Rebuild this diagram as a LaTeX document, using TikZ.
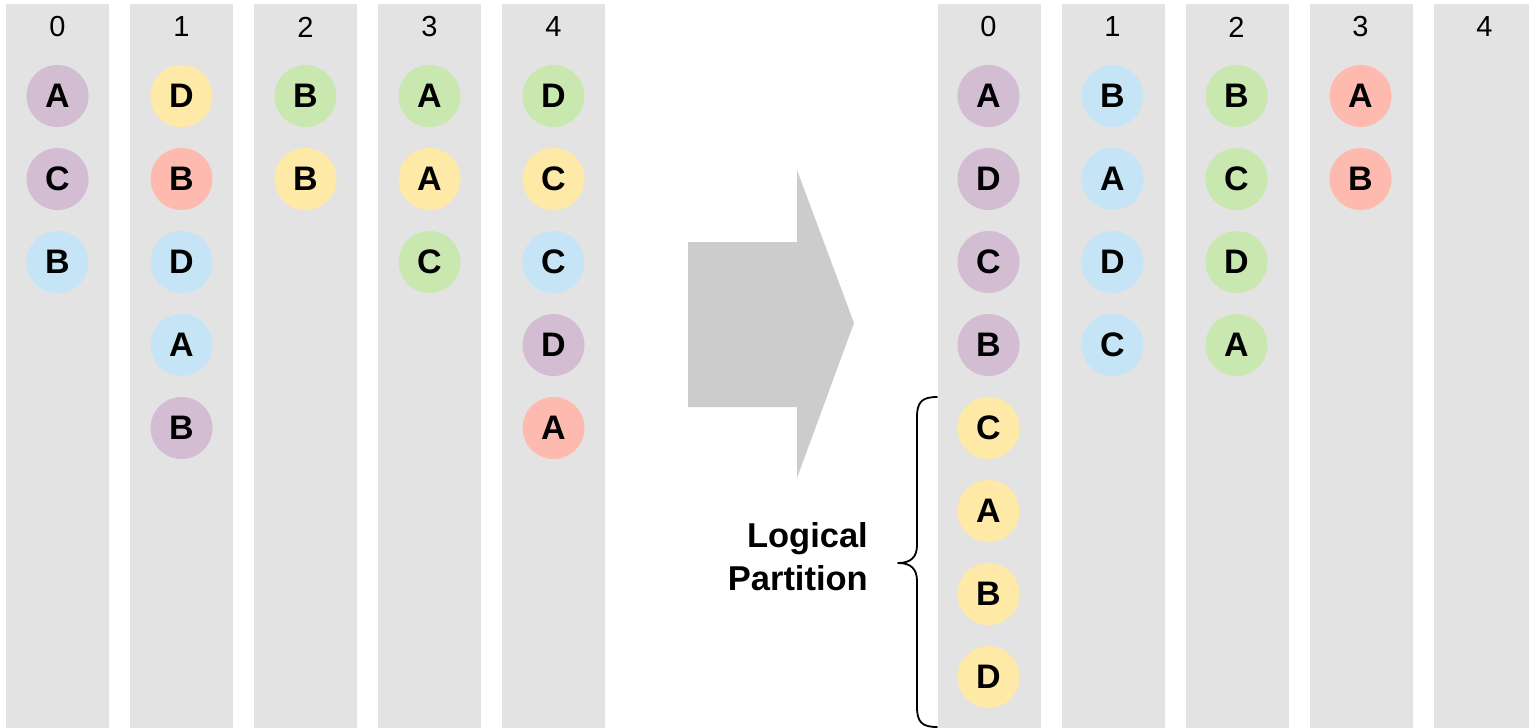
\documentclass[tikz,border=0pt]{standalone}
\usepackage{fontspec}
\setmainfont{Liberation Sans}
\definecolor{lanegray}{RGB}{227,227,227}
\definecolor{arrowgray}{RGB}{204,204,204}
\definecolor{cpurple}{RGB}{211,189,211}
\definecolor{cyellow}{RGB}{255,233,166}
\definecolor{cred}{RGB}{255,186,176}
\definecolor{cblue}{RGB}{197,228,245}
\definecolor{cgreen}{RGB}{201,232,176}
\begin{document}
\begin{tikzpicture}[x=1pt,y=-1pt,
  lane/.style={fill=lanegray},
  idx/.style={inner sep=0pt,font=\fontsize{29}{29}\selectfont},
  rec/.style={circle,minimum size=62pt,inner sep=0pt,draw=none,fill=#1,
    font=\fontsize{34}{34}\selectfont\bfseries},
  bracestyle/.style={line width=1.8pt,line cap=round,line join=round}]
\useasboundingbox (0,0) rectangle (1529,728);
\clip (0,0) rectangle (1529,728);

% partitions before (left) and after (right)
\foreach \i in {0,...,4}{
  \fill[lane] (6+124*\i,4) rectangle (109+124*\i,728);
  \node[idx] (lh\i) at (57.5+124*\i,27) {\i};
  \fill[lane] (938+124*\i,4) rectangle (1041+124*\i,728);
  \node[idx] (rh\i) at (988.5+124*\i,27) {\i};
}

% records: column / row / letter / colour
\foreach \c/\r/\t/\col in {
  0/0/A/cpurple, 0/1/C/cpurple, 0/2/B/cblue,
  1/0/D/cyellow, 1/1/B/cred, 1/2/D/cblue, 1/3/A/cblue, 1/4/B/cpurple,
  2/0/B/cgreen, 2/1/B/cyellow,
  3/0/A/cgreen, 3/1/A/cyellow, 3/2/C/cgreen,
  4/0/D/cgreen, 4/1/C/cyellow, 4/2/C/cblue, 4/3/D/cpurple, 4/4/A/cred}
  \node[rec=\col] (l\c r\r) at (57.5+124*\c,96+83*\r) {\t};

\foreach \c/\r/\t/\col in {
  0/0/A/cpurple, 0/1/D/cpurple, 0/2/C/cpurple, 0/3/B/cpurple,
  0/4/C/cyellow, 0/5/A/cyellow, 0/6/B/cyellow, 0/7/D/cyellow,
  1/0/B/cblue, 1/1/A/cblue, 1/2/D/cblue, 1/3/C/cblue,
  2/0/B/cgreen, 2/1/C/cgreen, 2/2/D/cgreen, 2/3/A/cgreen,
  3/0/A/cred, 3/1/B/cred}
  \node[rec=\col] (r\c r\r) at (988.5+124*\c,96+83*\r) {\t};

% big transformation arrow
\fill[arrowgray] (688,242) -- (797,242) -- (797,170) -- (854,323)
  -- (797,478) -- (797,407) -- (688,407) -- cycle;

% brace marking the logical partition
\draw[bracestyle] (937,397) .. controls (922,397) and (917,402) .. (917,417)
  -- (917,545) .. controls (917,557) and (911,563) .. (898,563)
  .. controls (911,563) and (917,569) .. (917,581)
  -- (917,707) .. controls (917,722) and (922,727) .. (937,727);

\node[anchor=east,align=right,inner sep=0pt,
  font=\fontsize{34.5}{43}\selectfont\bfseries] (lp) at (868,557)
  {Logical\\Partition};
\end{tikzpicture}
\end{document}
